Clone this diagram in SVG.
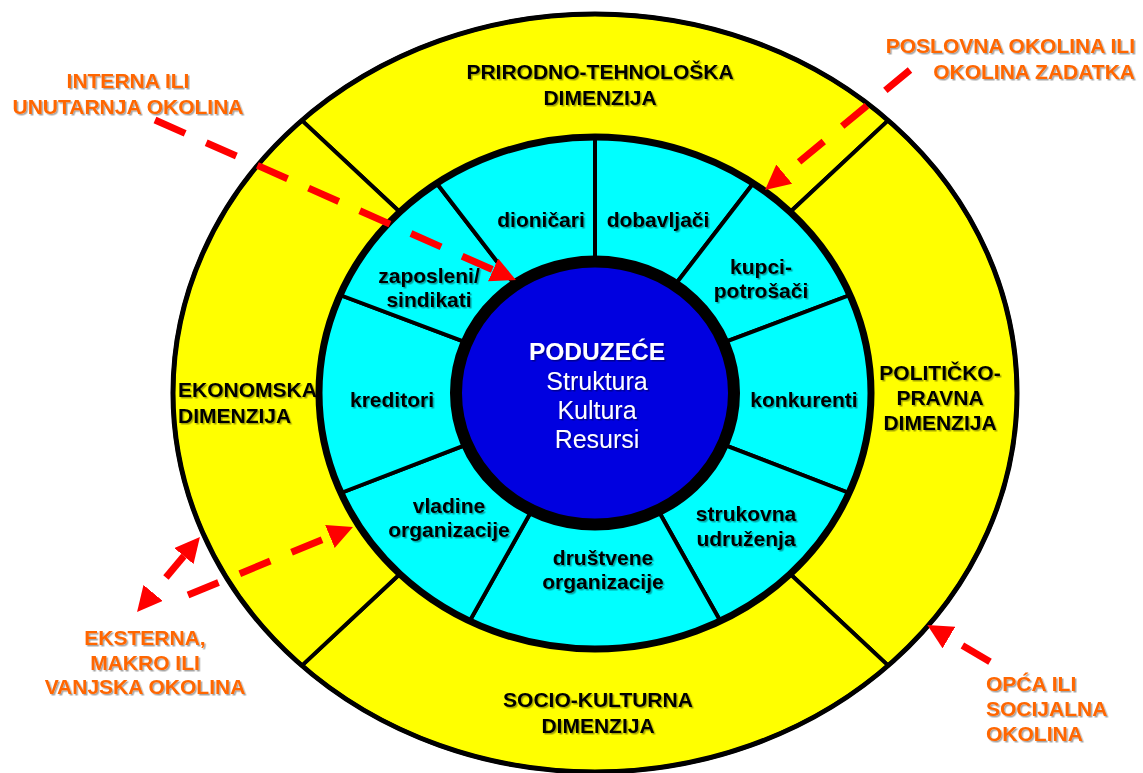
<svg xmlns="http://www.w3.org/2000/svg" width="1143" height="773" viewBox="0 0 1143 773">
<defs>
<style>
.t{font-family:"Liberation Sans",Arial,sans-serif;font-weight:bold;font-size:21px;fill:#000;filter:url(#sh)}
.o{font-family:"Liberation Sans",Arial,sans-serif;font-weight:bold;font-size:21px;fill:#FF6600;filter:url(#sh)}
.c{font-family:"Liberation Sans",Arial,sans-serif;font-size:25px;fill:#FFFFFF;filter:url(#sh)}
.m{text-anchor:middle}
.e{text-anchor:end}
.seg{fill:#00FFFF;stroke:#000;stroke-width:4;stroke-linejoin:round}
.dim{fill:#FFFF00;stroke:#000;stroke-width:4;stroke-linejoin:round}
.arr{fill:none;stroke:#FF0000;stroke-width:7;stroke-dasharray:33 23;marker-end:url(#ah)}
</style>
<filter id="sh" x="-10%" y="-30%" width="120%" height="160%">
<feDropShadow dx="1.5" dy="1.5" stdDeviation="0.5" flood-color="#000" flood-opacity="0.35"/>
</filter>
<marker id="ah" markerUnits="userSpaceOnUse" markerWidth="26" markerHeight="26" refX="0" refY="12.5" orient="auto">
<path d="M0,0 L25,12.5 L0,25 Z" fill="#FF0000"/>
</marker>
<marker id="ahs" markerUnits="userSpaceOnUse" markerWidth="26" markerHeight="26" refX="0" refY="12.5" orient="auto-start-reverse">
<path d="M0,0 L25,12.5 L0,25 Z" fill="#FF0000"/>
</marker>
</defs>

<g id="dim-prirodno">
<path class="dim" d="M301.8,120.4 A422,379 0 0 1 888.2,120.4 L790.2,212 A276,256 0 0 0 399.8,212 Z"/>
<text class="t m" x="600" y="79">PRIRODNO-TEHNOLOŠKA</text>
<text class="t m" x="600" y="105">DIMENZIJA</text>
</g>
<g id="dim-politicko">
<path class="dim" d="M888.2,120.4 A422,379 0 0 1 888.2,665.6 L790.2,574 A276,256 0 0 0 790.2,212 Z"/>
<text class="t m" x="940" y="380">POLITIČKO-</text>
<text class="t m" x="940" y="405">PRAVNA</text>
<text class="t m" x="940" y="430">DIMENZIJA</text>
</g>
<g id="dim-socio">
<path class="dim" d="M888.2,665.6 A422,379 0 0 1 301.8,665.6 L399.8,574 A276,256 0 0 0 790.2,574 Z"/>
<text class="t m" x="598" y="707">SOCIO-KULTURNA</text>
<text class="t m" x="598" y="733">DIMENZIJA</text>
</g>
<g id="dim-ekonomska">
<path class="dim" d="M301.8,665.6 A422,379 0 0 1 301.8,120.4 L399.8,212 A276,256 0 0 0 399.8,574 Z"/>
</g>
<ellipse cx="595" cy="393" rx="422" ry="379" fill="none" stroke="#000" stroke-width="5"/>

<g id="seg-dobavljaci">
<path class="seg" d="M595,137 A276,256 0 0 1 753.3,183.3 L674.7,285.3 A139,131.5 0 0 0 595,261.5 Z"/>
<text class="t m" x="658" y="227">dobavljači</text>
</g>
<g id="seg-kupci">
<path class="seg" d="M753.3,183.3 A276,256 0 0 1 850,295 L723.4,342.7 A139,131.5 0 0 0 674.7,285.3 Z"/>
<text class="t m" x="761" y="274">kupci-</text>
<text class="t m" x="761" y="298">potrošači</text>
</g>
<g id="seg-konkurenti">
<path class="seg" d="M850,295 A276,256 0 0 1 849.1,493 L722.9,444.4 A139,131.5 0 0 0 723.4,342.7 Z"/>
<text class="t m" x="804" y="407">konkurenti</text>
</g>
<g id="seg-strukovna">
<path class="seg" d="M849.1,493 A276,256 0 0 1 720.3,621.1 L658.1,510.2 A139,131.5 0 0 0 722.9,444.4 Z"/>
<text class="t m" x="746" y="521">strukovna</text>
<text class="t m" x="746" y="546">udruženja</text>
</g>
<g id="seg-drustvene">
<path class="seg" d="M720.3,621.1 A276,256 0 0 1 469.7,621.1 L531.9,510.2 A139,131.5 0 0 0 658.1,510.2 Z"/>
<text class="t m" x="603" y="565">društvene</text>
<text class="t m" x="603" y="589">organizacije</text>
</g>
<g id="seg-vladine">
<path class="seg" d="M469.7,621.1 A276,256 0 0 1 340.9,493 L467.1,444.4 A139,131.5 0 0 0 531.9,510.2 Z"/>
<text class="t m" x="449" y="513">vladine</text>
<text class="t m" x="449" y="537">organizacije</text>
</g>
<g id="seg-kreditori">
<path class="seg" d="M340.9,493 A276,256 0 0 1 340,295 L466.6,342.7 A139,131.5 0 0 0 467.1,444.4 Z"/>
<text class="t m" x="392" y="407">kreditori</text>
</g>
<g id="seg-zaposleni">
<path class="seg" d="M340,295 A276,256 0 0 1 436.7,183.3 L515.3,285.3 A139,131.5 0 0 0 466.6,342.7 Z"/>
<text class="t m" x="429" y="283">zaposleni/</text>
<text class="t m" x="429" y="307">sindikati</text>
</g>
<g id="seg-dionicari">
<path class="seg" d="M436.7,183.3 A276,256 0 0 1 595,137 L595,261.5 A139,131.5 0 0 0 515.3,285.3 Z"/>
<text class="t m" x="541" y="227">dioničari</text>
</g>
<ellipse cx="595" cy="393" rx="276" ry="256" fill="none" stroke="#000" stroke-width="7"/>

<g id="ekonomska-label">
<text class="t" x="178" y="397">EKONOMSKA</text>
<text class="t" x="178" y="423">DIMENZIJA</text>
</g>

<g id="poduzece">
<ellipse cx="595" cy="393" rx="139" ry="131.5" fill="#0000E0" stroke="#000" stroke-width="12"/>
<text class="t m" x="597" y="360" style="fill:#fff;font-size:24.5px">PODUZEĆE</text>
<text class="c m" x="597" y="390">Struktura</text>
<text class="c m" x="597" y="419">Kultura</text>
<text class="c m" x="597" y="448">Resursi</text>
</g>

<g id="lbl-interna">
<text class="o m" x="128" y="88">INTERNA ILI</text>
<text class="o m" x="128" y="114">UNUTARNJA OKOLINA</text>
</g>
<g id="lbl-poslovna">
<text class="o e" x="1135" y="53">POSLOVNA OKOLINA ILI</text>
<text class="o e" x="1135" y="79">OKOLINA ZADATKA</text>
</g>
<g id="lbl-eksterna">
<text class="o m" x="145" y="645">EKSTERNA,</text>
<text class="o m" x="145" y="670">MAKRO ILI</text>
<text class="o m" x="145" y="694">VANJSKA OKOLINA</text>
</g>
<g id="lbl-opca">
<text class="o" x="986" y="691">OPĆA ILI</text>
<text class="o" x="986" y="716">SOCIJALNA</text>
<text class="o" x="986" y="741">OKOLINA</text>
</g>

<g id="connectors">
<path class="arr" d="M155,120 L493.1,269.9"/>
<path class="arr" d="M910,70 L784.3,174.1" style="stroke-dasharray:32 24"/>
<path class="arr" d="M990,661.7 L948.9,637.6" style="stroke-dasharray:32 24"/>
<path class="arr" d="M183.9,556.1 L153.1,592.9" style="stroke-dasharray:28 30;marker-start:url(#ahs)"/>
<path class="arr" d="M188,595 L329.9,536.5"/>
</g>
</svg>
